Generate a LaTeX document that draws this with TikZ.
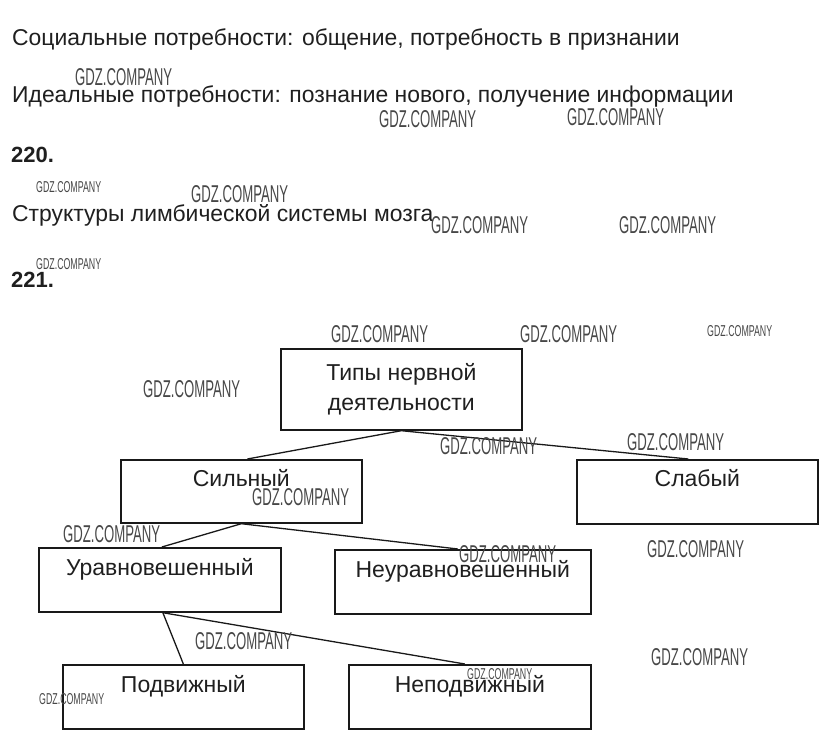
\documentclass[tikz,border=0pt]{standalone}
\usepackage{fontspec}
\usepackage{graphicx}
\setmainfont{Liberation Sans}
\newfontfamily\wmfont{Liberation Sans}
\begin{document}
\begin{tikzpicture}[x=1pt,y=-1pt,
  txt/.style={anchor=base west, inner sep=0pt, text=black!88, font=\fontsize{22.9pt}{26pt}\selectfont},
  num/.style={anchor=base west, inner sep=0pt, text=black!88, font=\fontsize{22pt}{26pt}\selectfont\bfseries},
  box/.style={draw=black!90, line width=1.7pt, inner sep=0pt, anchor=north west,
    text=black!88, font=\fontsize{23pt}{26pt}\selectfont, text height=28pt, text depth=36pt},
  tbox/.style={draw=black!90, line width=1.7pt, inner sep=0pt, anchor=north west, align=center,
    text=black!88, font=\fontsize{23pt}{30pt}\selectfont, minimum height=81pt, minimum width=241pt},
  link/.style={draw=black!90, line width=1.3pt},
  wm/.style={anchor=north west, inner sep=0pt, text=black!72, font=\wmfont}]
\useasboundingbox (0,0) rectangle (828,742);
\newcommand\wmL[3]{\node[wm] (#1) at (#2,#3) {\resizebox{97pt}{17pt}{GDZ.COMPANY}};}
\newcommand\wmS[3]{\node[wm] (#1) at (#2,#3) {\resizebox{65pt}{11pt}{GDZ.COMPANY}};}

% top texts
\node[txt] (l1) at (12,45) {Социальные потребности: общение, потребность в признании};
\node[txt] (l2) at (12,102) {Идеальные потребности: познание нового, получение информации};
\node[num] (n220) at (11,162) {220.};
\node[txt] (l3) at (12,221) {Структуры лимбической системы мозга};
\node[num] (n221) at (11,287) {221.};

% boxes
\node[tbox] (t) at (280,348) {Типы нервной\\деятельности};
\node[box, minimum width=241pt, text height=27pt] (s) at (120,459) {Сильный};
\node[box, minimum width=241pt, text height=27pt, text depth=37pt] (sl) at (576,459) {Слабый};
\node[box, minimum width=242pt] (u) at (38,547) {Уравновешенный};
\node[box, minimum width=256pt] (nu) at (334,549) {Неуравновешенный};
\node[box, minimum width=241pt] (p) at (62,664) {Подвижный};
\node[box, minimum width=242pt] (np) at (348,664) {Неподвижный};

% connectors
\draw[link] (t.south) -- ([xshift=6pt]s.north);
\draw[link] (t.south) -- ([xshift=-9pt]sl.north);
\draw[link] (s.south) -- ([xshift=2pt]u.north);
\draw[link] (s.south) -- ([xshift=-5pt]nu.north);
\draw[link] ([xshift=3pt]u.south) -- (p.north);
\draw[link] ([xshift=3pt]u.south) -- ([xshift=-5pt]np.north);

% watermarks
\wmL{w1}{75}{68}
\wmL{w2}{379}{110}
\wmL{w3}{567}{108}
\wmS{w4}{36}{181}
\wmL{w5}{191}{185}
\wmL{w6}{431}{216}
\wmL{w7}{619}{216}
\wmS{w8}{36}{258}
\wmL{w9}{331}{325}
\wmL{w10}{520}{325}
\wmS{w11}{707}{325}
\wmL{w12}{143}{380}
\wmL{w13}{440}{437}
\wmL{w14}{627}{433}
\wmL{w15}{252}{488}
\wmL{w16}{63}{525}
\wmL{w17}{459}{545}
\wmL{w18}{647}{540}
\wmL{w19}{195}{632}
\wmL{w20}{651}{648}
\wmS{w21}{467}{668}
\wmS{w22}{39}{693}
\end{tikzpicture}
\end{document}
